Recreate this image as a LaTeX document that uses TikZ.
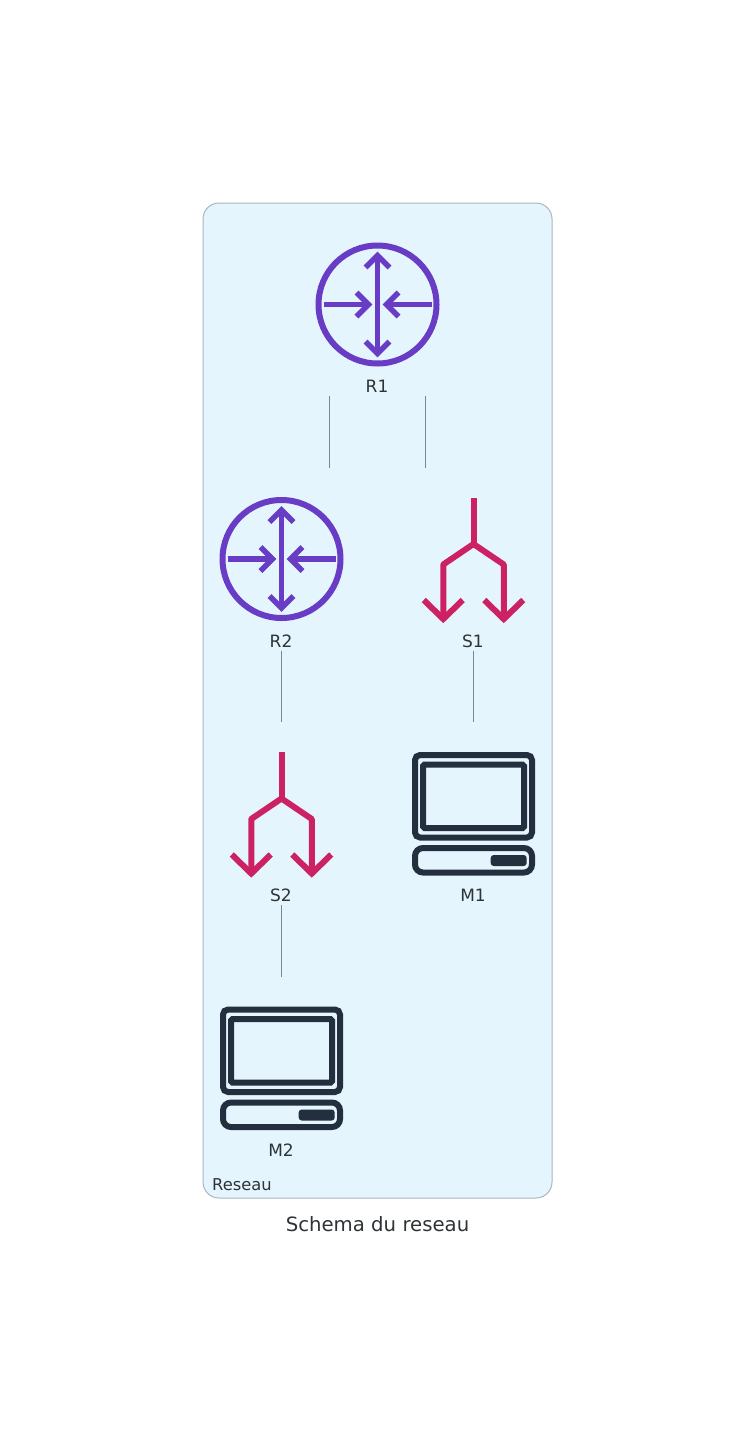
\documentclass[tikz,border=0pt]{standalone}
\usepackage{fontspec}
\setmainfont{DejaVu Sans}
\usetikzlibrary{calc}
\usetikzlibrary{positioning}
\definecolor{RouterPurple}{HTML}{693CC5}
\definecolor{SwitchPink}{HTML}{CC2264}
\definecolor{HostDark}{HTML}{232F3E}
\definecolor{PanelBlue}{HTML}{E4F5FD}
\definecolor{PanelEdge}{HTML}{A9B6C2}
\definecolor{LinkGrey}{HTML}{7B8794}
\definecolor{TextDark}{HTML}{2D3436}
\tikzset{
  iconbox/.style={minimum size=122pt,inner sep=0pt},
  devlabel/.style={inner sep=0pt,text=TextDark,font=\fontsize{17}{17}\selectfont},
  link/.style={LinkGrey,line width=1pt},
  router/.pic={
    \draw [RouterPurple,line width=6pt] (0,0) circle (59);
    \draw [RouterPurple,line width=5.5pt] (0,-49) -- (0,49);
    \draw [RouterPurple,line width=5.5pt] (-54,0) -- (-9,0);
    \draw [RouterPurple,line width=5.5pt] (54,0) -- (9,0);
    \draw [RouterPurple,line width=5.5pt] (-12,-37) -- (0,-49) -- (12,-37);
    \draw [RouterPurple,line width=5.5pt] (-12,37) -- (0,49) -- (12,37);
    \draw [RouterPurple,line width=5.5pt] (-21,-12) -- (-9,0) -- (-21,12);
    \draw [RouterPurple,line width=5.5pt] (21,-12) -- (9,0) -- (21,12);
  },
  switch/.pic={
    \draw [SwitchPink,line width=6pt] (0,-61.5) -- (0,-15);
    \draw [SwitchPink,line width=6pt,line join=round] (-30.25,60) -- (-30.25,5.5) -- (0,-15) -- (30.25,5.5) -- (30.25,60);
    \foreach \x in {-30.25,30.25}{%
      \draw [SwitchPink,line width=6pt] (\x-19.5,41) -- (\x,60) -- (\x+19.5,41);
    }
  },
  host/.pic={
    \draw [HostDark,line width=6pt,rounded corners=5pt] (-58.5,-58.5) rectangle (58.5,24);
    \draw [HostDark,line width=6pt,rounded corners=1.5pt] (-50.5,-49) rectangle (50.5,14.5);
    \draw [HostDark,line width=6pt,rounded corners=8pt] (-58.5,34.5) rectangle (58.5,59);
    \fill [HostDark,rounded corners=3pt] (17.2,41.5) rectangle (53.2,52.5);
  },
}
\begin{document}
\begin{tikzpicture}[x=1pt,y=-1pt]
  \useasboundingbox (0,0) rectangle (755,1435);

  \draw [PanelEdge,fill=PanelBlue,line width=1pt,rounded corners=16pt] (203,203) rectangle (552,1198);

  % devices
  \node [iconbox] (R1) at (377.5,304.5) {};
  \node [iconbox] (R2) at (281.5,559) {};
  \node [iconbox] (S1) at (473.5,559) {};
  \node [iconbox] (S2) at (281.5,813.5) {};
  \node [iconbox] (M1) at (473.5,813.5) {};
  \node [iconbox] (M2) at (281.5,1068) {};

  \pic at (R1) {router};
  \pic at (R2) {router};
  \pic at (S1) {switch};
  \pic at (S2) {switch};
  \pic at (M1) {host};
  \pic at (M2) {host};

  \foreach \dev in {R1,R2,S1,S2,M1,M2}{%
    \node [devlabel,below=14pt of \dev,xshift=-0.5pt] (\dev label) {\dev};
  }

  % links
  \coordinate (R1west) at ($(R1)+(-48.5,91.5)$);
  \coordinate (R1east) at ($(R1)+(47.5,91.5)$);
  \coordinate (R2from) at ($(R2)+(-0.5,91.5)$);
  \coordinate (S1from) at ($(S1)+(-0.5,91.5)$);
  \coordinate (S2from) at ($(S2)+(-0.5,91.5)$);

  \draw [link] (R1west) -- ++(0,71.5) coordinate (R1westend);
  \draw [link] (R1east) -- ++(0,71.5) coordinate (R1eastend);
  \draw [link] (R2from) -- ++(0,71.5) coordinate (R2end);
  \draw [link] (S1from) -- ++(0,71.5) coordinate (S1end);
  \draw [link] (S2from) -- ++(0,71.5) coordinate (S2end);

  \node [inner sep=0pt,text=TextDark,font=\fontsize{16.3}{16.3}\selectfont,anchor=base west] (Reseau) at (212,1190) {Reseau};
  \node [anchor=base,inner sep=0pt,text=TextDark,font=\fontsize{19.7}{19.7}\selectfont] (Titre) at (377.5,1231) {Schema du reseau};
\end{tikzpicture}
\end{document}
